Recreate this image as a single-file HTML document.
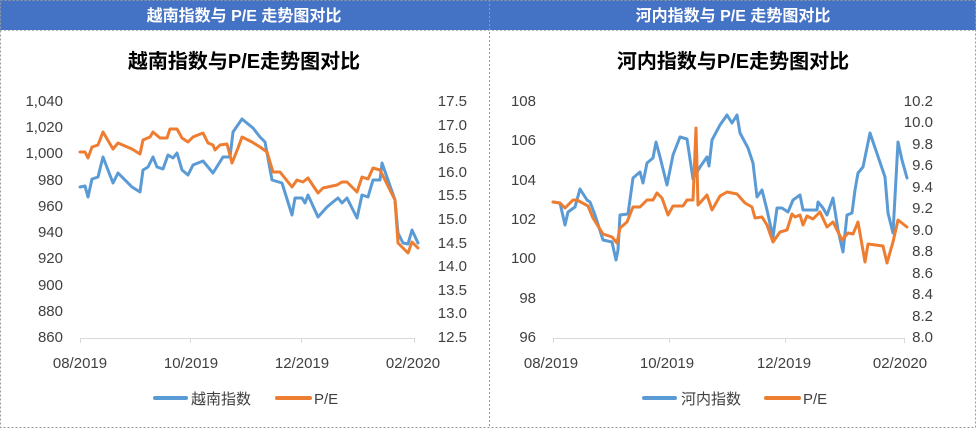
<!DOCTYPE html>
<html><head><meta charset="utf-8"><style>
body{margin:0;width:976px;height:428px;background:#fff;overflow:hidden}
svg{display:block}
text{font-family:"Liberation Sans","Noto Sans CJK SC",sans-serif}
</style></head><body>
<svg width="976" height="428" viewBox="0 0 976 428">
<rect x="0" y="0" width="976" height="30" fill="#4472C4"/>
<rect x="0.5" y="0.5" width="975" height="427" fill="none" stroke="#999" stroke-dasharray="2,2"/>
<line x1="489.5" y1="0" x2="489.5" y2="428" stroke="#999" stroke-dasharray="2,2"/>
<line x1="0" y1="30.5" x2="976" y2="30.5" stroke="#bbb" stroke-dasharray="2,2"/>
<text x="244" y="21" fill="#fff" font-size="16" font-weight="bold" text-anchor="middle">越南指数与 P/E 走势图对比</text>
<text x="733" y="21" fill="#fff" font-size="16" font-weight="bold" text-anchor="middle">河内指数与 P/E 走势图对比</text>
<text x="244" y="68" fill="#000" font-size="20" font-weight="bold" text-anchor="middle">越南指数与P/E走势图对比</text>
<text x="733" y="68" fill="#000" font-size="20" font-weight="bold" text-anchor="middle">河内指数与P/E走势图对比</text>
<g font-size="15" fill="#404040">
<g text-anchor="end">
<text x="63" y="106">1,040</text><text x="63" y="132">1,020</text><text x="63" y="158">1,000</text><text x="63" y="185">980</text><text x="63" y="211">960</text><text x="63" y="237">940</text><text x="63" y="263">920</text><text x="63" y="290">900</text><text x="63" y="316">880</text><text x="63" y="342">860</text>
<text x="467" y="106">17.5</text><text x="467" y="130">17.0</text><text x="467" y="153">16.5</text><text x="467" y="177">16.0</text><text x="467" y="200">15.5</text><text x="467" y="224">15.0</text><text x="467" y="248">14.5</text><text x="467" y="271">14.0</text><text x="467" y="295">13.5</text><text x="467" y="318">13.0</text><text x="467" y="342">12.5</text>
<text x="536" y="106">108</text><text x="536" y="145">106</text><text x="536" y="185">104</text><text x="536" y="224">102</text><text x="536" y="263">100</text><text x="536" y="303">98</text><text x="536" y="342">96</text>
<text x="933" y="106">10.2</text><text x="933" y="127">10.0</text><text x="933" y="149">9.8</text><text x="933" y="170">9.6</text><text x="933" y="192">9.4</text><text x="933" y="213">9.2</text><text x="933" y="235">9.0</text><text x="933" y="256">8.8</text><text x="933" y="278">8.6</text><text x="933" y="299">8.4</text><text x="933" y="321">8.2</text><text x="933" y="342">8.0</text>
</g>
<g text-anchor="middle">
<text x="80" y="368">08/2019</text><text x="191" y="368">10/2019</text><text x="302" y="368">12/2019</text><text x="413" y="368">02/2020</text>
<text x="551" y="368">08/2019</text><text x="667" y="368">10/2019</text><text x="784" y="368">12/2019</text><text x="900" y="368">02/2020</text>
</g>
<text x="191" y="404">越南指数</text><text x="314" y="404">P/E</text>
<text x="681" y="404">河内指数</text><text x="803" y="404">P/E</text>
</g>
<g stroke="#5B9BD5" stroke-width="4" stroke-linecap="round"><line x1="155" y1="398" x2="186" y2="398"/><line x1="644" y1="398" x2="675" y2="398"/></g>
<g stroke="#ED7D31" stroke-width="4" stroke-linecap="round"><line x1="277" y1="398" x2="310" y2="398"/><line x1="766" y1="398" x2="799" y2="398"/></g>
<g stroke="#d9d9d9" stroke-width="1" fill="none">
<path d="M80 338.5H415M80.5 338v5M190.5 338v5M301.5 338v5M414.5 338v5"/>
<path d="M553 338.5H905M553.5 338v5M669.5 338v5M785.5 338v5M904.5 338v5"/>
</g>
<g fill="none" stroke-width="3" stroke-linejoin="round" stroke-linecap="round">
<polyline stroke="#5B9BD5" points="80,187 85,186 88,197 92,179 98,177 103,157 113,183 118,173 132,187 140,192 143,170 148,167 153,157 157,167 163,169 168,155 173,158 177,153 182,170 188,175 193,165 203,161 213,173 223,157 230,157 233,132 242,119 253,128 260,137 265,142 272,180 282,183 292,215 295,198 302,198 305,203 308,195 318,217 327,207 333,202 338,198 342,203 347,198 357,218 362,195 368,197 373,180 380,180 382,163 395,200 398,233 403,243 408,244 412,230 418,243"/>
<polyline stroke="#ED7D31" points="80,152 85,152 88,158 92,147 98,145 103,132 113,149 118,143 132,149 140,154 143,140 150,137 153,132 160,138 167,138 170,129 177,129 182,138 188,142 193,137 203,133 208,143 213,145 215,150 220,145 227,144 232,163 238,148 242,137 252,142 260,147 267,152 273,172 280,172 292,187 297,180 303,182 308,178 318,193 323,188 337,185 342,182 347,182 353,188 357,192 362,177 368,179 373,168 380,170 395,200 398,243 408,253 412,242 418,248"/>
<polyline stroke="#5B9BD5" points="553,202 560,203 565,225 568,212 575,207 580,189 587,200 590,202 595,215 603,240 612,242 616,260 618,250 620,215 628,214 633,178 640,172 643,183 647,163 653,158 656,142 660,157 667,185 673,155 680,137 687,139 693,179 700,167 707,157 709,166 712,140 720,125 727,115 732,123 737,115 740,133 748,148 753,163 757,197 762,190 767,210 773,237 777,208 782,208 788,212 793,200 800,195 803,210 817,210 818,202 823,208 827,215 833,198 838,230 843,252 847,215 852,213 855,190 858,173 863,167 870,133 885,177 888,213 893,233 898,142 902,160 907,178"/>
<polyline stroke="#ED7D31" points="553,202 560,203 565,208 573,200 577,200 588,206 593,218 603,234 612,237 617,243 620,228 627,222 633,207 640,207 647,200 653,200 657,193 662,198 668,215 673,206 683,206 687,200 693,200 696,128 698,205 707,195 712,210 720,196 727,192 737,194 745,203 752,207 755,218 762,217 767,225 773,242 780,232 787,230 792,214 795,217 800,215 803,225 807,216 813,219 820,212 827,227 833,222 842,240 848,233 853,234 858,222 865,262 868,244 883,246 887,263 893,242 898,220 907,227"/>
</g>
</svg>
</body></html>
